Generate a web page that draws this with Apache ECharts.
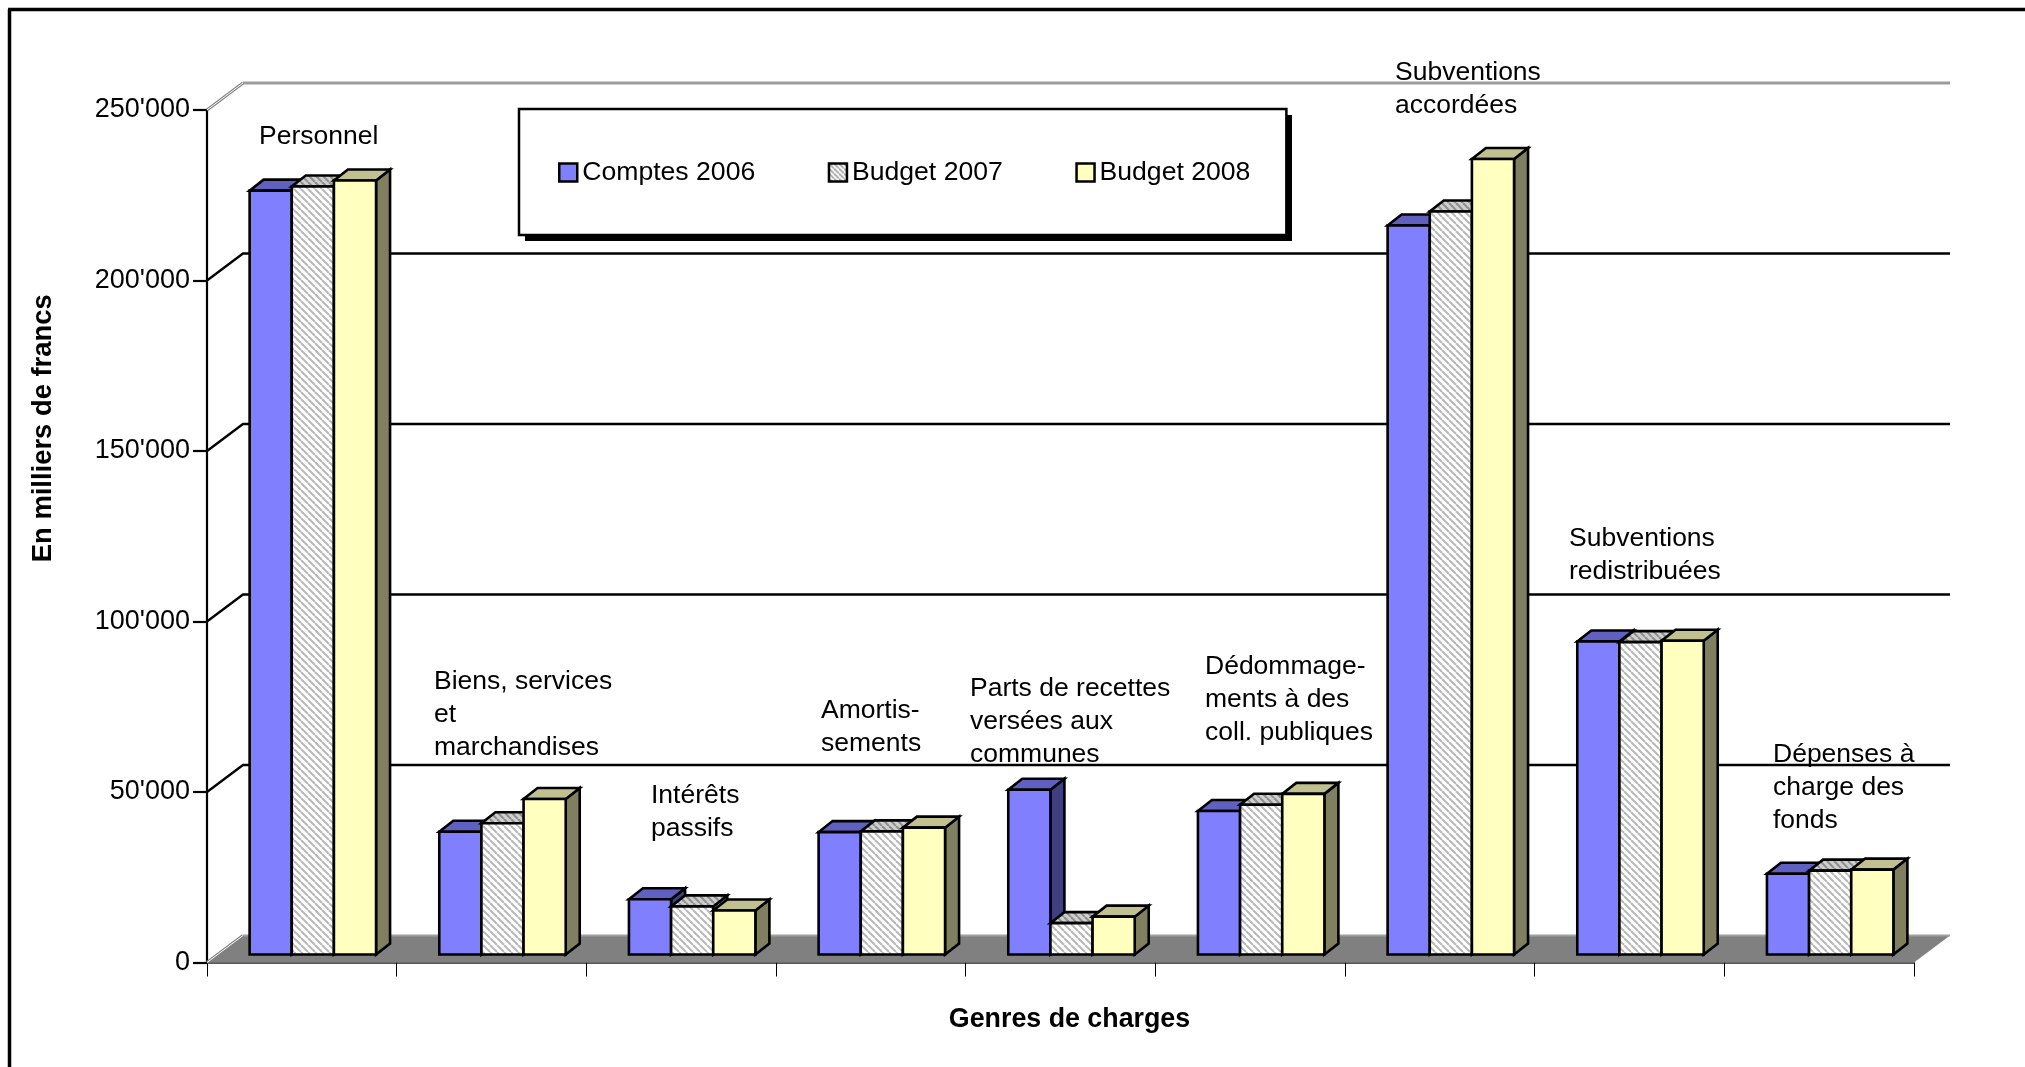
<!DOCTYPE html>
<html><head><meta charset="utf-8">
<style>html,body{margin:0;padding:0;background:#fff}#c{width:2025px;height:1067px}</style>
<script src="https://cdn.jsdelivr.net/npm/echarts@6/dist/echarts.min.js"></script>
</head><body><div id="c"></div>
<script>
const categories = ['Personnel','Biens, services et marchandises','Intérêts passifs','Amortissements','Parts de recettes versées aux communes','Dédommagements à des coll. publiques','Subventions accordées','Subventions redistribuées','Dépenses à charge des fonds'];
const comptes2006 = [224000,36000,16200,35900,48300,42100,213800,91800,23700];
const budget2007  = [225200,38500,14100,36100,9200,43900,217900,91600,24600];
const budget2008  = [227000,45600,12900,37200,11100,47100,233300,92000,24900];
const yTicks = [0,50000,100000,150000,200000,250000];
const seriesNames = ['Comptes 2006','Budget 2007','Budget 2008'];
const annotationTexts = ['Personnel','Biens, services\net\nmarchandises','Intérêts\npassifs','Amortis-\nsements','Parts de recettes\nversées aux\ncommunes','Dédommage-\nments à des\ncoll. publiques','Subventions\naccordées','Subventions\nredistribuées','Dépenses à\ncharge des\nfonds'];
const annotationAnchors = [[259,120],[434,665],[651,779],[821,694],[970,672],[1205,650],[1395,56],[1569,522],[1773,738]];
const FONT='"Liberation Sans", Arial, sans-serif';
const WALL={dx:36,dy:-27}, FRONT={dx:11,dy:-8}, BAR={dx:14,dy:-11};

function hatch(bg,line,period,lw){
  const c=document.createElement('canvas');c.width=c.height=period;
  const g=c.getContext('2d');g.fillStyle=bg;g.fillRect(0,0,period,period);
  g.strokeStyle=line;g.lineWidth=lw;
  for(const o of [-period,0,period]){g.beginPath();g.moveTo(o,0);g.lineTo(o+period,period);g.stroke();}
  return {image:c,repeat:'repeat'};
}
const hatchFront=hatch('#ffffff','#b8b8b8',7,2), hatchTop=hatch('#d0d0d0','#909090',7,2.2), hatchSide=hatch('#9a9a9a','#666666',7,2.2), hatchIcon=hatch('#ffffff','#a6a6a6',5,1.8);
const palette=[
 {front:'#8080ff',top:'#6060c0',side:'#404080'},
 {front:hatchFront,top:hatchTop,side:hatchSide},
 {front:'#ffffc0',top:'#c0c090',side:'#808060'}];

function barSeries(k,values){
  return {type:'custom',name:seriesNames[k],coordinateSystem:'cartesian2d',z:5+k,silent:true,animation:false,
    itemStyle:{color:k===1?hatchIcon:palette[k].front,borderColor:'#000',borderWidth:2.5},
    encode:{x:0,y:1},
    data:values.map((v,i)=>[i,v]),
    renderItem(params,api){
      const i=api.value(0),v=api.value(1);
      const band=api.size([1,0])[0], w=band/4.5;
      const top=api.coord([i,v]), base=api.coord([i,0]);
      const x0=top[0]-1.5*w+k*w+FRONT.dx, x1=x0+w;
      const yt=top[1]+FRONT.dy, yb=base[1]+FRONT.dy;
      const st=fill=>({fill,stroke:'#000',lineWidth:2.6,lineJoin:'miter'});
      const c=palette[k];
      return {type:'group',children:[
        {type:'polygon',shape:{points:[[x1,yb],[x1+BAR.dx,yb+BAR.dy],[x1+BAR.dx,yt+BAR.dy],[x1,yt]]},style:st(c.side)},
        {type:'polygon',shape:{points:[[x0,yt],[x1,yt],[x1+BAR.dx,yt+BAR.dy],[x0+BAR.dx,yt+BAR.dy]]},style:st(c.top)},
        {type:'rect',shape:{x:x0,y:yt,width:w,height:yb-yt},style:st(c.front)}
      ]};
    }};
}

const wallSeries={type:'custom',z:1,silent:true,animation:false,coordinateSystem:'cartesian2d',encode:{x:0,y:1},
  data:yTicks.map(v=>[0,v]),
  renderItem(params,api){
    const v=api.value(1), band=api.size([1,0])[0];
    const p=api.coord([0,v]), xl=p[0]-band/2, y=p[1], xr=api.coord([categories.length-1,v])[0]+band/2;
    const bx=xl+WALL.dx, by=y+WALL.dy, br=xr+WALL.dx;
    const kids=[];
    if(v===0){
      kids.push({type:'polygon',shape:{points:[[xl,y],[xr,y],[br,by],[bx,by]]},style:{fill:'#808080'}});
      kids.push({type:'line',shape:{x1:bx,y1:by,x2:br,y2:by},style:{stroke:'#a0a0a0',lineWidth:2}});
    }
    const edge=v===0||v===yTicks[yTicks.length-1];
    if(edge){
      if(v!==0)kids.push({type:'line',shape:{x1:bx,y1:by,x2:br,y2:by},style:{stroke:'#9c9c9c',lineWidth:3}});
      kids.push({type:'line',shape:{x1:xl,y1:y,x2:bx,y2:by},style:{stroke:'#808080',lineWidth:3}});
      kids.push({type:'line',shape:{x1:xl,y1:y,x2:bx,y2:by},style:{stroke:'#ffffff',lineWidth:1}});
    } else {
      kids.push({type:'polyline',shape:{points:[[xl,y],[bx,by],[br,by]]},style:{fill:'none',stroke:'#000',lineWidth:2.3}});
    }
    return {type:'group',children:kids};
  }};

const annotations=annotationTexts.map((t,i)=>({type:'text',left:annotationAnchors[i][0],top:annotationAnchors[i][1],z:20,
  style:{text:t,font:'26.5px '+FONT,fill:'#000',lineHeight:33}}));

const chart=echarts.init(document.getElementById('c'),null,{renderer:'canvas'});
chart.setOption({
  animation:false,backgroundColor:'#fff',
  grid:{left:207,top:110,width:1707,height:852.5},
  legend:{left:519,top:109,orient:'horizontal',padding:[50,36,49,39],itemGap:72.5,itemWidth:18,itemHeight:18,
    backgroundColor:'#fff',borderColor:'#000',borderWidth:2.5,
    textStyle:{fontFamily:FONT,fontSize:26.6,color:'#000'},
    data:seriesNames.map((n,k)=>({name:n,icon:'rect',itemStyle:{color:k===1?hatchIcon:palette[k].front,borderColor:'#000',borderWidth:2.5}})),selectedMode:false,z:15},
  xAxis:{type:'category',data:categories,boundaryGap:true,
    name:'Genres de charges',nameLocation:'middle',nameGap:44,
    nameTextStyle:{fontFamily:FONT,fontSize:26.8,fontWeight:'bold',color:'#000',padding:[0,0,0,18]},
    axisLine:{show:true,lineStyle:{color:'#222',width:1.5}},
    axisTick:{show:true,length:14,alignWithLabel:false,interval:0,lineStyle:{color:'#000',width:1}},
    axisLabel:{show:false},splitLine:{show:false}},
  yAxis:{type:'value',min:0,max:250000,interval:50000,
    name:'En milliers de francs',nameLocation:'middle',nameRotate:90,nameGap:150,
    nameTextStyle:{fontFamily:FONT,fontSize:27.4,fontWeight:'bold',color:'#000',padding:[0,0,0,216]},
    axisLine:{show:true,onZero:false,lineStyle:{color:'#000',width:2.2}},
    axisTick:{show:true,length:14,lineStyle:{color:'#000',width:2.2}},
    axisLabel:{margin:17,fontFamily:FONT,fontSize:27,color:'#000',padding:[2,0,0,0],
      formatter:v=>String(v).replace(/\B(?=(\d{3})+$)/g,"'")},
    splitLine:{show:false}},
  graphic:[
    {type:'line',z:30,shape:{x1:9.5,y1:1067,x2:9.5,y2:9.5},style:{stroke:'#000',lineWidth:3.5}},
    {type:'line',z:30,shape:{x1:8,y1:9.5,x2:2025,y2:9.5},style:{stroke:'#000',lineWidth:3.5}},
    {type:'rect',z:14,shape:{x:525,y:115,width:767,height:126},style:{fill:'#000'}},
    ...annotations],
  series:[wallSeries,barSeries(0,comptes2006),barSeries(1,budget2007),barSeries(2,budget2008)]
});
</script></body></html>
